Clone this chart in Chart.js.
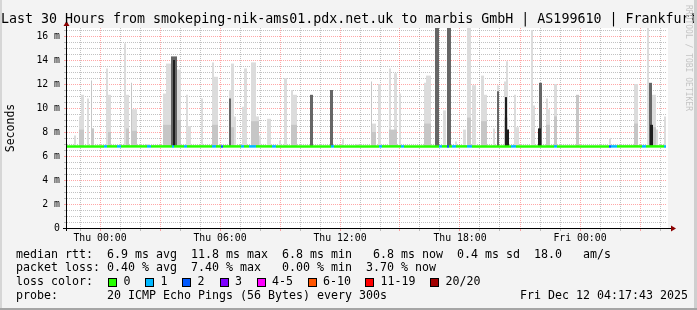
<!DOCTYPE html>
<html>
<head>
<meta charset="utf-8">
<script src="https://cdn.jsdelivr.net/npm/chart.js@4"></script>
<style>
  html, body { margin: 0; padding: 0; background: #fff; }
  #wrap { position: relative; width: 697px; height: 310px; background: #f3f3f3; overflow: hidden;
          font-family: "DejaVu Sans Mono", monospace; color: #000; }
  #wrap canvas { position: absolute; left: 0; top: 0; }
  .txt { position: absolute; white-space: pre; line-height: 1; }
  .legend { font-size: 11.63px; }
  .box { position: absolute; width: 7px; height: 7px; border: 1px solid #000; }
  #title { left: 1px; top: 12px; font-size: 13.3px; }
  #mark { left: 684px; top: 5px; font-size: 8px; color: #c4c4c4; writing-mode: vertical-rl; }
  #edgeL { position: absolute; left: 0; top: 0; width: 2px; height: 310px; background: #d6d6d6; }
  #edgeR { position: absolute; right: 0; top: 0; width: 3px; height: 310px; background: #cfcfcf; }
  #edgeB { position: absolute; left: 0; bottom: 0; width: 697px; height: 2px; background: #a5a5a5; }
</style>
</head>
<body>
<div id="wrap">
  <canvas id="chart" width="697" height="310"></canvas>
  <div class="txt" id="title">Last 30 Hours from smokeping-nik-ams01.pdx.net.uk to marbis GmbH | AS199610 | Frankfurt</div>
  <div class="txt" id="mark">RRDTOOL / TOBI OETIKER</div>
  <div class="txt legend" style="left:16px;top:249px">median rtt:  6.9 ms avg  11.8 ms max  6.8 ms min   6.8 ms now  0.4 ms sd  18.0   am/s</div>
  <div class="txt legend" style="left:16px;top:262px">packet loss: 0.40 % avg  7.40 % max   0.00 % min  3.70 % now</div>
  <div class="txt legend" id="lossRow" style="left:16px;top:276px">loss color:</div>
  <div class="txt legend" style="left:16px;top:290px">probe:       20 ICMP Echo Pings (56 Bytes) every 300s                   Fri Dec 12 04:17:43 2025</div>
  <div id="edgeL"></div><div id="edgeR"></div><div id="edgeB"></div>
</div>
<script>
// time axis in hours relative to Thu 00:00
const hourMin = -1.65;
const hourMax = 28.35;
const tickHours = [0, 6, 12, 18, 24];
const tickLabels = ['Thu 00:00', 'Thu 06:00', 'Thu 12:00', 'Thu 18:00', 'Fri 00:00'];

const yMax = 16.667;
const yLabelValues = [0, 2, 4, 6, 8, 10, 12, 14, 16];
const yLabels = ['0', '2 m', '4 m', '6 m', '8 m', '10 m', '12 m', '14 m', '16 m'];

// median rtt (ms) and where pings were lost: [from hour, to hour, lost pings]
const medianRtt = 6.8;
const medianEnd = 28.3;
const lossSpans = [
  [0.2, 0.35, 1], [0.85, 1.05, 1], [2.35, 2.55, 1], [3.6, 3.7, 1], [4.2, 4.35, 1],
  [5.6, 5.8, 1], [6.05, 6.15, 2], [7.05, 7.2, 1], [7.45, 7.8, 1], [8.6, 8.8, 1],
  [11.55, 11.7, 1], [13.95, 14.1, 1], [15.05, 15.2, 1], [16.95, 17.1, 1], [17.35, 17.45, 2],
  [17.6, 17.8, 1], [18.35, 18.6, 1], [20.55, 20.8, 1], [22.7, 22.85, 1], [25.45, 25.55, 2],
  [25.55, 25.85, 1], [27.1, 27.3, 1], [28.2, 28.3, 1]
];

const lossNames = ['0', '1', '2', '3', '4-5', '6-10', '11-19', '20/20'];
const lossColors = ['#26ff00', '#00b8ff', '#0059ff', '#7e00ff', '#ff00ff', '#ff5500', '#ff0000', '#a10000'];

// smoke: [from hour, to hour, top ms]
const lightSmoke = [
  [-1.3, -1.2, 7.7], [-1.05, -0.95, 9.3], [-0.95, -0.8, 11.1], [-0.65, -0.55, 10.8], [-0.4, -0.3, 8.3],
  [0.3, 0.4, 13.3], [0.4, 0.55, 11.1], [1.2, 1.3, 15.4], [1.3, 1.45, 11.1], [1.6, 1.85, 9.9],
  [2.3, 2.5, 7.0], [3.15, 3.3, 11.2], [3.3, 3.55, 13.7], [3.8, 4.05, 13.2], [4.3, 4.4, 11.1],
  [4.4, 4.55, 8.5], [5.05, 5.15, 10.8], [5.6, 5.7, 13.8], [5.7, 5.9, 12.6], [6.45, 6.55, 11.5],
  [6.55, 6.7, 13.7], [6.7, 6.8, 9.3], [7.1, 7.2, 10.1], [7.2, 7.35, 13.3], [7.55, 7.8, 13.8],
  [7.8, 7.95, 9.3], [7.95, 8.05, 7.7], [8.35, 8.55, 9.1], [8.95, 9.05, 7.3], [9.2, 9.35, 12.5],
  [9.55, 9.65, 11.5], [9.65, 9.85, 11.1], [12.1, 12.2, 7.4], [12.8, 12.95, 7.0], [13.6, 13.8, 8.7],
  [13.9, 14.05, 12.0], [14.45, 14.55, 13.3], [14.7, 14.85, 12.9], [14.95, 15.05, 11.2], [16.2, 16.3, 12.1],
  [16.3, 16.55, 12.7], [17.15, 17.3, 9.8], [17.75, 17.85, 7.2], [18.15, 18.3, 8.2], [18.35, 18.55, 17],
  [18.6, 18.8, 11.9], [19.05, 19.2, 12.7], [19.2, 19.35, 11.1], [19.65, 19.75, 8.3], [19.85, 19.95, 11.9],
  [20.2, 20.3, 12.2], [20.3, 20.4, 13.9], [20.7, 20.8, 11.1], [20.8, 20.95, 8.4], [21.55, 21.65, 16.5],
  [21.65, 21.75, 10.2], [22.3, 22.4, 10.8], [22.4, 22.5, 9.9], [22.7, 22.85, 12.0], [25.45, 25.55, 7.5],
  [26.7, 26.9, 12.0], [27.35, 27.45, 17], [27.6, 27.8, 11.1], [27.8, 27.9, 8.2], [28.2, 28.3, 9.3]
];
const midSmoke = [
  [-1.05, -0.8, 8.2], [-0.45, -0.4, 12.3], [-0.4, -0.3, 8.3], [0.4, 0.55, 8.0], [1.3, 1.45, 8.3],
  [1.55, 1.6, 12.1], [1.6, 1.85, 8.1], [3.15, 3.55, 8.6], [3.8, 4.05, 9.0], [5.6, 5.9, 8.6],
  [6.55, 6.7, 8.4], [7.55, 7.95, 8.9], [9.55, 9.85, 8.6], [13.55, 13.6, 12.2], [13.6, 13.8, 8.0],
  [14.45, 14.85, 8.2], [16.2, 16.55, 8.7], [18.35, 18.55, 9.2], [19.05, 19.35, 8.9], [20.2, 20.4, 9.2],
  [22.3, 22.5, 8.6], [22.7, 22.85, 9.3], [23.8, 23.95, 11.1], [26.7, 26.9, 8.7], [27.6, 27.8, 8.4]
];
const darkSmoke = [
  [3.55, 3.85, 14.3], [6.45, 6.55, 10.8], [10.5, 10.65, 11.1], [11.5, 11.65, 11.5], [16.75, 16.95, 17],
  [17.35, 17.55, 17], [19.85, 19.95, 11.4], [20.25, 20.35, 10.9], [21.95, 22.1, 12.1], [27.45, 27.6, 12.1]
];
const coreSmoke = [
  [3.65, 3.75, 14.0], [20.25, 20.35, 10.9], [20.35, 20.45, 8.2], [21.9, 22.05, 8.3], [27.5, 27.65, 8.6]
];

function lossColor(n) {
  if (n <= 3) return lossColors[n];
  if (n <= 5) return lossColors[4];
  if (n <= 10) return lossColors[5];
  if (n <= 19) return lossColors[6];
  return lossColors[7];
}

function smokePoints(spikes) {
  const pts = [];
  spikes.forEach(([a, b, top]) => {
    pts.push({x: a, y: medianRtt}, {x: a, y: top}, {x: b, y: top}, {x: b, y: medianRtt}, {x: b, y: null});
  });
  return pts;
}

function smokeSet(spikes, color) {
  return {
    data: smokePoints(spikes),
    borderColor: 'transparent',
    borderWidth: 0,
    backgroundColor: color,
    fill: {value: medianRtt},
    pointRadius: 0,
    tension: 0,
    spanGaps: false
  };
}

const medianPts = [{x: hourMin, y: medianRtt}];
lossSpans.forEach(s => { medianPts.push({x: s[0], y: medianRtt}, {x: s[1], y: medianRtt}); });
medianPts.push({x: medianEnd, y: medianRtt});

// legend boxes for loss colours
const boxLeft = [108, 145, 182, 219.5, 256.5, 307.5, 365, 430];
const wrap = document.getElementById('wrap');
lossNames.forEach((name, i) => {
  const b = document.createElement('div');
  b.className = 'box';
  b.style.left = boxLeft[i] + 'px';
  b.style.top = '278px';
  b.style.background = lossColors[i];
  wrap.appendChild(b);
  const t = document.createElement('div');
  t.className = 'txt legend';
  t.style.left = (boxLeft[i] + 15.5) + 'px';
  t.style.top = '276px';
  t.textContent = name;
  wrap.appendChild(t);
});

const near = (v, step) => Math.abs(v / step - Math.round(v / step)) < 1e-6;
const majorGrid = 'rgba(255, 60, 60, 0.45)';
const minorGrid = 'rgba(120, 120, 120, 0.45)';
const tickFont = {family: 'DejaVu Sans Mono', size: 9.8};

const plotBg = {
  id: 'plotBg',
  beforeDraw(chart) {
    const {ctx, chartArea: a} = chart;
    ctx.save();
    ctx.fillStyle = '#ffffff';
    ctx.fillRect(a.left, a.top, a.right - a.left + 1, a.bottom - a.top);
    ctx.restore();
  }
};

const axes = {
  id: 'axes',
  afterDraw(chart) {
    const {ctx, chartArea: a} = chart;
    ctx.save();
    ctx.strokeStyle = '#000';
    ctx.lineWidth = 1;
    ctx.beginPath();
    ctx.moveTo(a.left - 0.5, a.bottom + 3);
    ctx.lineTo(a.left - 0.5, a.top - 4);
    ctx.moveTo(a.left - 4, a.bottom + 0.5);
    ctx.lineTo(a.right + 4, a.bottom + 0.5);
    ctx.stroke();
    ctx.fillStyle = '#8b0000';
    ctx.beginPath();
    ctx.moveTo(a.left - 0.5, a.top - 7);
    ctx.lineTo(a.left - 3.5, a.top - 2);
    ctx.lineTo(a.left + 2.5, a.top - 2);
    ctx.closePath();
    ctx.fill();
    ctx.beginPath();
    ctx.moveTo(a.right + 9, a.bottom + 0.5);
    ctx.lineTo(a.right + 4, a.bottom - 2.5);
    ctx.lineTo(a.right + 4, a.bottom + 3.5);
    ctx.closePath();
    ctx.fill();
    ctx.restore();
  }
};

new Chart(document.getElementById('chart'), {
  type: 'line',
  data: {
    datasets: [
      {
        data: medianPts,
        borderWidth: 2.5,
        borderCapStyle: 'butt',
        pointRadius: 0,
        fill: false,
        tension: 0,
        segment: {
          borderColor: c => {
            const mid = (c.p0.parsed.x + c.p1.parsed.x) / 2;
            const s = lossSpans.find(s => mid > s[0] && mid < s[1]);
            return lossColor(s ? s[2] : 0);
          }
        }
      },
      smokeSet(coreSmoke, '#1e1e1e'),
      smokeSet(darkSmoke, '#666666'),
      smokeSet(midSmoke, '#c6c6c6'),
      smokeSet(lightSmoke, '#dcdcdc')
    ]
  },
  options: {
    responsive: false,
    animation: false,
    devicePixelRatio: 1,
    layout: {padding: {left: 4, right: 30, top: 28, bottom: 0}},
    plugins: {legend: {display: false}, tooltip: {enabled: false}},
    scales: {
      x: {
        type: 'linear',
        min: hourMin,
        max: hourMax,
        afterFit: s => { s.height = 82; },
        afterBuildTicks: s => {
          const t = [];
          for (let h = Math.ceil(hourMin); h <= hourMax; h++) t.push({value: h});
          s.ticks = t;
        },
        border: {display: false, dash: [1, 1]},
        grid: {
          color: c => near(c.tick.value, 3) ? majorGrid : minorGrid,
          tickLength: 3
        },
        ticks: {
          autoSkip: false,
          maxRotation: 0,
          padding: 2,
          color: '#000',
          font: tickFont,
          callback: v => {
            const i = tickHours.indexOf(Math.round(v));
            return (i >= 0 && near(v, 1)) ? tickLabels[i] : '';
          }
        }
      },
      y: {
        min: 0,
        max: yMax,
        afterFit: s => { s.width = 63; },
        afterBuildTicks: s => {
          const t = [];
          for (let v = 0; v <= yMax; v += 0.5) t.push({value: v});
          s.ticks = t;
        },
        border: {display: false, dash: [1, 1]},
        grid: {
          color: c => near(c.tick.value, 2) ? majorGrid : minorGrid,
          tickLength: 3
        },
        title: {
          display: true,
          text: 'Seconds',
          color: '#000',
          padding: 0,
          font: {family: 'DejaVu Sans Mono', size: 11.5}
        },
        ticks: {
          autoSkip: false,
          padding: 4,
          color: '#000',
          font: tickFont,
          callback: v => {
            const i = yLabelValues.findIndex(y => Math.abs(y - v) < 1e-6);
            return i >= 0 ? yLabels[i] : '';
          }
        }
      }
    }
  },
  plugins: [plotBg, axes]
});
</script>
</body>
</html>
